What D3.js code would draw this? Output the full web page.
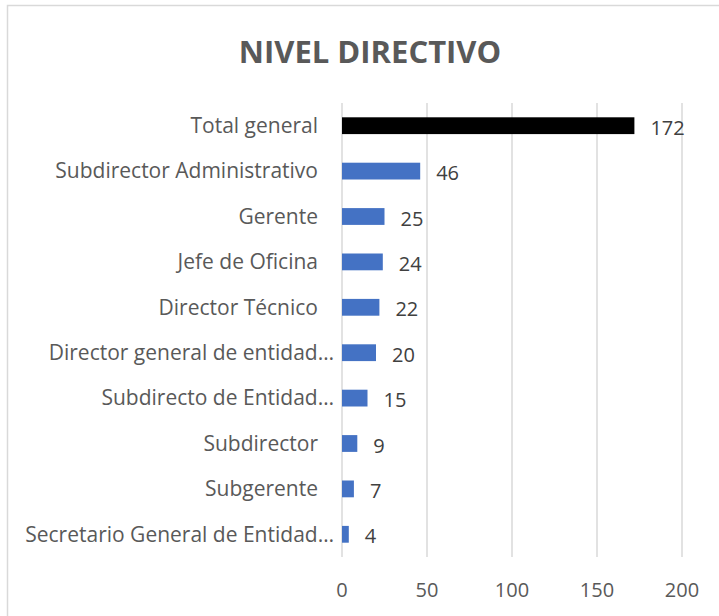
<!DOCTYPE html>
<html>
<head>
<meta charset="utf-8">
<script src="https://cdn.jsdelivr.net/npm/d3@7"></script>
<style>
  body { margin: 0; background: #fff; }
  text { font-family: "Open Sans", "Noto Sans", sans-serif; }
</style>
</head>
<body>
<div id="chart"></div>
<script>
const categories = [
  'Total general',
  'Subdirector Administrativo',
  'Gerente',
  'Jefe de Oficina',
  'Director Técnico',
  'Director general de entidad…',
  'Subdirecto de Entidad…',
  'Subdirector',
  'Subgerente',
  'Secretario General de Entidad…'
]
const values = [172, 46, 25, 24, 22, 20, 15, 9, 7, 4]
const ticks = [0, 50, 100, 150, 200]

const width = 719
const height = 616
const margin = { top: 103, left: 342, right: 37, bottom: 59 }

const svg = d3.select('#chart').append('svg')
  .attr('width', width)
  .attr('height', height)

// chart frame
svg.append('rect')
  .attr('x', 7.5).attr('y', 5.5)
  .attr('width', 730).attr('height', 630)
  .attr('fill', '#fff')
  .attr('stroke', '#d9d9d9')
  .attr('stroke-width', 1.5)

svg.append('text')
  .attr('x', 370).attr('y', 63)
  .attr('text-anchor', 'middle')
  .attr('font-size', 31)
  .attr('font-weight', 'bold')
  .attr('fill', '#595959')
  .text('NIVEL DIRECTIVO')

const x = d3.scaleLinear()
  .domain([0, 200])
  .range([margin.left, width - margin.right])

const y = d3.scaleBand()
  .domain(categories)
  .range([margin.top, height - margin.bottom])
  .paddingInner(0.63)
  .paddingOuter(0.315)

const grid = svg.append('g')
grid.selectAll('line')
  .data(ticks)
  .enter()
  .append('line')
  .attr('x1', d => x(d)).attr('x2', d => x(d))
  .attr('y1', margin.top).attr('y2', height - margin.bottom)
  .attr('stroke', '#d9d9d9')
  .attr('stroke-width', 1.5)

svg.append('g').selectAll('text')
  .data(ticks)
  .enter()
  .append('text')
  .attr('x', d => x(d))
  .attr('y', 597)
  .attr('text-anchor', 'middle')
  .attr('font-size', 20)
  .attr('fill', '#595959')
  .text(d => d)

svg.append('g').selectAll('rect')
  .data(values)
  .enter()
  .append('rect')
  .attr('x', x(0))
  .attr('y', (d, i) => y(categories[i]))
  .attr('width', d => x(d) - x(0))
  .attr('height', y.bandwidth())
  .attr('fill', (d, i) => i === 0 ? '#000000' : '#4472c4')

// category labels, truncated ones sit closer to the axis like Excel does
svg.append('g').selectAll('text')
  .data(categories)
  .enter()
  .append('text')
  .attr('x', d => d.endsWith('…') ? x(0) - 8 : x(0) - 24)
  .attr('y', d => y(d) + y.bandwidth() / 2)
  .attr('dy', '0.35em')
  .attr('text-anchor', 'end')
  .attr('font-size', 21)
  .attr('fill', '#595959')
  .text(d => d)

svg.append('g').selectAll('text')
  .data(values)
  .enter()
  .append('text')
  .attr('x', d => x(d) + 16)
  .attr('y', (d, i) => y(categories[i]) + y.bandwidth() / 2 + 2)
  .attr('dy', '0.35em')
  .attr('font-size', 20)
  .attr('fill', '#404040')
  .text(d => d)
</script>
</body>
</html>
